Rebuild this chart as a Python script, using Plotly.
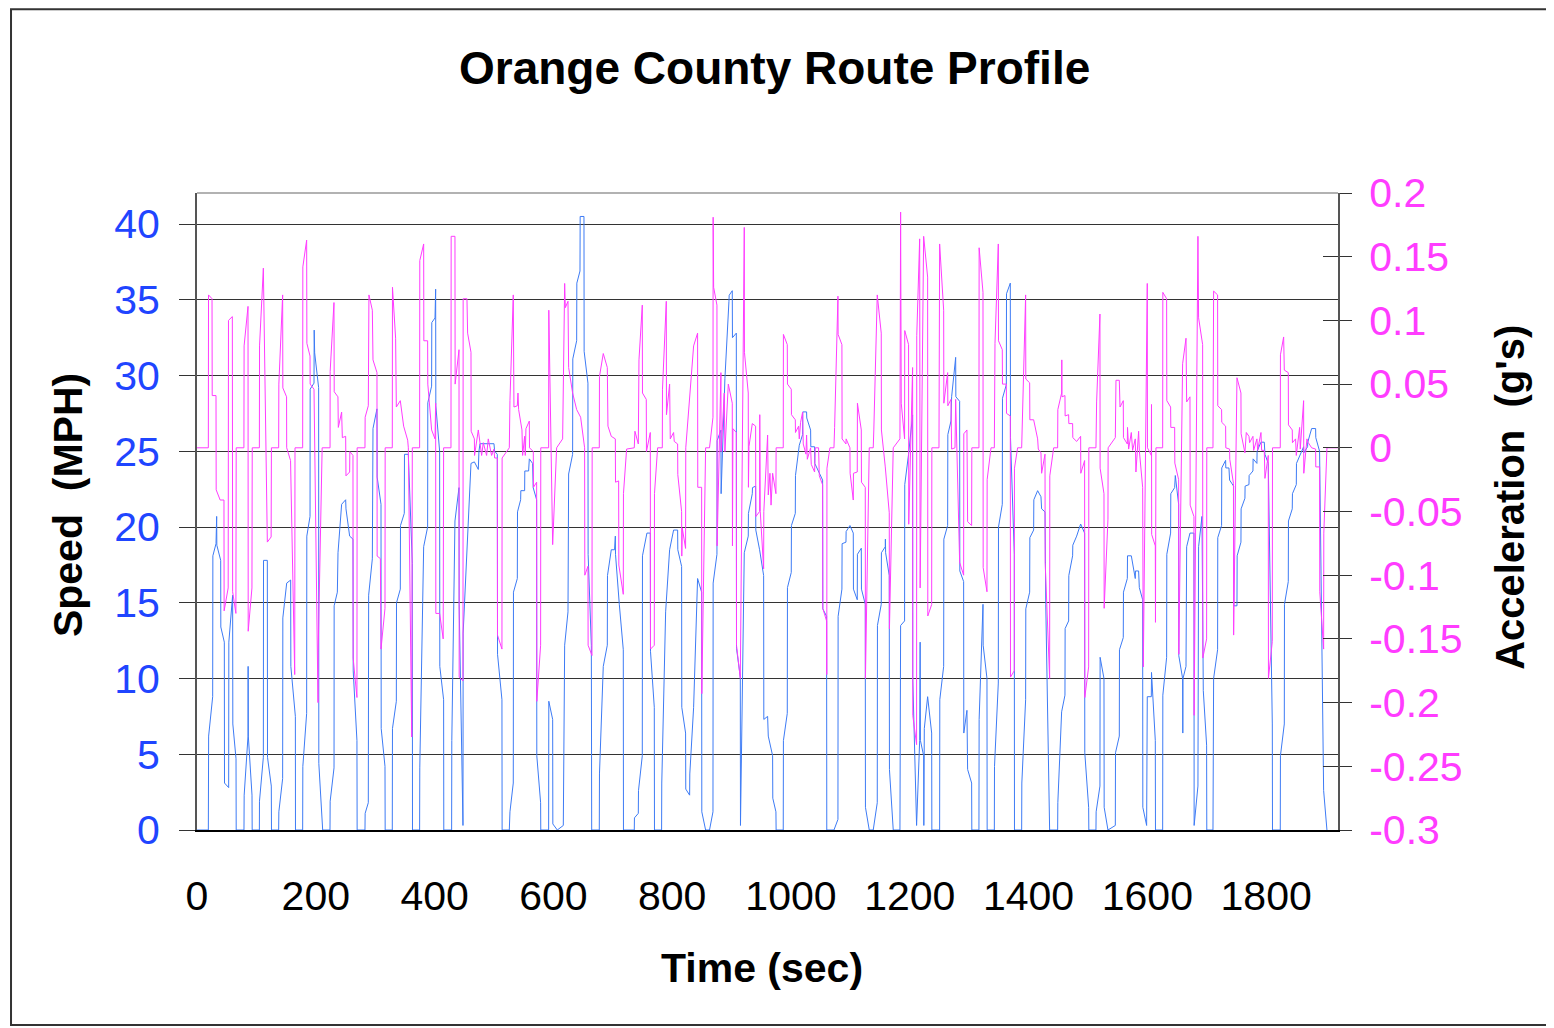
import plotly.graph_objects as go

# ---------------- data ----------------
chart_title = "Orange County Route Profile"
x_title = "Time (sec)"
y_title = "Speed&nbsp; (MPH)"
y2_title = "Acceleration&nbsp; (g's)"

time_ticks = [0, 200, 400, 600, 800, 1000, 1200, 1400, 1600, 1800]
speed_ticks = [0, 5, 10, 15, 20, 25, 30, 35, 40]
accel_ticks = [-0.3, -0.25, -0.2, -0.15, -0.1, -0.05, 0, 0.05, 0.1, 0.15, 0.2]
accel_tick_text = ["-0.3", "-0.25", "-0.2", "-0.15", "-0.1", "-0.05", "0", "0.05", "0.1", "0.15", "0.2"]

# (time sec, speed MPH)
speed_samples = [
    (0, 0), (19.1, 0), (19.6, 6.2), (26.4, 8.8), (26.7, 18.1), (32, 18.9), (33.1, 20.7), (33.4, 18.8),
    (39.9, 17.8), (40.1, 13.4), (46, 12.4), (46.3, 3.1), (53.3, 2.8), (53.6, 12.4), (60, 15.5), (60.3, 7),
    (65.7, 4.7), (66, 0), (79.1, 0), (79.4, 2.3), (85.9, 6.2), (86.1, 10.8), (86.4, 6.2), (92.6, 2.3),
    (92.9, 0), (105, 0), (105.2, 1.9), (111.7, 4.8), (112, 17.8), (118.4, 17.8), (118.7, 4.8), (125.1, 2.9),
    (125.4, 0), (137.5, 0), (137.8, 1.2), (144.2, 3.4), (144.5, 14), (151, 16.3), (157.7, 16.5), (158, 10.8),
    (165.6, 7.5), (165.8, 0), (177.9, 0), (178.2, 4.2), (184.6, 7.7), (184.9, 19.4), (190.3, 20.7), (190.5, 29.1),
    (197, 29.5), (197.3, 33), (198.1, 31.5), (204.8, 29.2), (205.1, 4.4), (211.6, 0), (223.9, 0), (224.2, 1.9),
    (230.7, 4.1), (230.9, 14.8), (236.3, 15.7), (237.4, 18.3), (243.5, 21.5), (250.3, 21.8), (250.8, 21.2),
    (257, 19.4), (262.6, 19.2), (263, 10.5), (269.3, 5.9), (269.6, 0), (282.8, 0), (283.1, 1.1), (288.4, 1.8),
    (289, 15.5), (295.2, 17.9), (296.3, 26.5), (303, 27.8), (303.3, 23.3), (309.8, 21.5), (310.1, 6.7),
    (316.5, 4.2), (316.8, 0), (328.8, 0), (329.1, 6.7), (335.6, 8.5), (335.9, 15), (342.3, 15.9), (342.6, 20.1),
    (349, 20.9), (349.3, 24.8), (355.8, 24.8), (362.5, 17.6), (362.8, 0), (374.8, 0), (375.1, 4.1), (381.6, 18.7),
    (388.3, 20), (388.6, 28.2), (395, 29.3), (395.3, 33.5), (400.7, 33.8), (401.8, 35.7), (402.1, 28),
    (408.5, 25), (408.8, 10.8), (415.2, 8.6), (415.5, 0), (428.7, 0), (429, 5.9), (434.3, 20.4), (441.1, 22.6),
    (441.4, 14.9), (447.8, 0.3), (448.1, 13), (454.5, 19), (461.3, 24.2), (467, 24.3), (473.6, 23.8),
    (474.7, 25), (476.4, 25.5), (500, 25.5), (501.1, 25), (505.6, 24.8), (506, 11.6), (513.4, 8.6), (513.7, 0),
    (525.8, 0), (526.9, 1.2), (532.5, 3.1), (532.8, 15.7), (539.3, 16.6), (539.6, 21), (544.9, 21.8),
    (545.2, 22.4), (551.6, 22.4), (551.9, 23.7), (558.3, 23.7), (559.5, 24.5), (565, 24.2), (566, 22.6),
    (571.8, 21.8), (572.1, 4.9), (578.5, 1.8), (578.8, 0), (592, 0), (592.3, 8.5), (598.8, 7.3), (599.1, 0.4),
    (606.6, 0), (616.7, 0.3), (619, 12.2), (624.6, 14.4), (625.7, 23.5), (632.4, 24.8), (632.7, 31.1),
    (639.2, 32.3), (639.5, 36.1), (644.8, 36.9), (645.1, 40.5), (651.5, 40.5), (651.8, 31.6), (658.2, 29.5),
    (658.5, 18.2), (663.9, 12.2), (664.5, 0), (677.3, 0), (677.6, 3.7), (684, 10.8), (690.8, 12.2),
    (691.1, 16.8), (697.5, 18.5), (703, 18.5), (704.3, 19.4), (704.6, 18.2), (711, 14.9), (717.7, 11.9),
    (718, 0), (736.2, 0), (736.5, 0.8), (743, 1.1), (743.3, 2.6), (749.7, 4.9), (750, 18.1), (756.4, 19.3),
    (757.5, 19.6), (763.2, 19.6), (763.5, 11.8), (769.9, 8.1), (770.2, 0), (782.2, 0), (782.5, 3.1),
    (789, 14.4), (795.7, 18.5), (802.4, 19.8), (809.2, 19.8), (809.5, 18.5), (815.9, 17.4), (816.2, 8.1),
    (822.6, 6.4), (822.9, 2.7), (829.4, 2.3), (829.7, 3.7), (836.1, 8.1), (842.8, 16.6), (849.6, 15.7),
    (849.9, 1.2), (856.3, 0), (862.9, 0), (868.7, 1.2), (869, 16.3), (875.4, 18.2), (875.7, 25.7),
    (882.1, 26.4), (882.4, 22.2), (888.8, 29.8), (895.6, 34.9), (896, 35.3), (901.2, 35.6), (901.5, 32.5),
    (908, 32.8), (908.3, 12), (914.7, 10.1), (915, 0.3), (921.4, 18.3), (928.1, 19.4), (928.4, 20.9),
    (934.9, 22.2), (935.2, 22.6), (940.5, 22.7), (940.8, 19.8), (947.2, 18.5), (954, 16.8), (954.3, 7.3),
    (960.7, 7.5), (961.8, 6.2), (969.1, 4.9), (969.4, 2.1), (974.7, 1.2), (975, 0), (987, 0), (987.3, 5.9),
    (993.8, 7.7), (994.1, 16), (1000.5, 17), (1000.8, 20.1), (1007.3, 20.9), (1007.6, 23.4), (1014, 25.4),
    (1019.6, 26.1), (1019.9, 27.6), (1026.3, 27.6), (1026.6, 27.2), (1033.1, 26.4), (1033.4, 25.3),
    (1039.8, 25.3), (1040.1, 24.2), (1046.5, 23.7), (1053.3, 23.1), (1053.6, 14.6), (1060, 14.1),
    (1060.3, 0), (1072.4, 0), (1079.1, 0.7), (1079.4, 14.1), (1085.8, 15.9), (1086.1, 18.9), (1092.6, 19),
    (1092.9, 19.7), (1099.3, 20.1), (1104.9, 19.6), (1105.2, 15.9), (1111.6, 15.2), (1111.9, 18.2),
    (1118.4, 18.6), (1118.7, 15.9), (1125.1, 14.9), (1125.4, 1.5), (1131.8, 0), (1138.5, 0), (1145.3, 1.8),
    (1145.6, 13.5), (1152, 14.9), (1152.3, 18.3), (1158.8, 18.7), (1159, 19.2), (1159.4, 18.3),
    (1165.5, 16.8), (1165.8, 4), (1172.2, 0), (1183.5, 0), (1184.6, 13.5), (1191.3, 13.8), (1191.6, 22.8),
    (1198, 24.8), (1204.8, 27.4), (1205.1, 10), (1211.5, 0.3), (1216.7, 5.9), (1217.5, 12.4), (1218, 5.9),
    (1223.4, 4.9), (1223.7, 0.3), (1224.5, 6.7), (1230.1, 8.8), (1236.9, 6.4), (1237.2, 0), (1250.3, 0),
    (1250.6, 8.6), (1257.1, 10.8), (1257.4, 19.2), (1263.8, 20.1), (1264.1, 26.1), (1269.4, 27),
    (1270.5, 28.6), (1277.3, 31.2), (1277.6, 28.6), (1284, 28.3), (1284.3, 17.1), (1290.7, 16.4),
    (1291, 6.4), (1296.3, 7.9), (1297.4, 4), (1304.2, 3.1), (1304.5, 0), (1316.5, 0), (1316.8, 7.3),
    (1323.3, 14.9), (1323.6, 12.2), (1330, 10), (1330.3, 0), (1342.4, 0), (1342.7, 4.2), (1349.1, 9.7),
    (1349.4, 20), (1355.8, 21.5), (1356.1, 28.5), (1362.6, 29.4), (1362.9, 35.4), (1369.3, 36.1),
    (1369.6, 25.9), (1376, 18.2), (1376.3, 0), (1388.4, 0), (1388.7, 3.1), (1395.1, 8.6), (1395.4, 14.6),
    (1401.9, 15.7), (1402.2, 19.3), (1408.6, 19.8), (1408.9, 21.8), (1415.3, 22.4), (1420.9, 22),
    (1422, 21.2), (1427.7, 21), (1429, 14.9), (1435.5, 0), (1449, 0), (1449.3, 1.8), (1455.7, 7.8),
    (1461.3, 8.9), (1461.6, 13.3), (1467.5, 13.8), (1467.8, 16.8), (1474.2, 18.1), (1474.5, 18.8),
    (1481, 19.4), (1487.7, 20.2), (1494.4, 19.6), (1494.7, 5.1), (1501.2, 1.5), (1501.5, 0), (1513.5, 0),
    (1513.8, 1.2), (1520.2, 2.9), (1520.5, 11.4), (1527, 10), (1527.3, 1.5), (1533.7, 0), (1546.1, 0.3),
    (1546.4, 5.1), (1552.8, 6.2), (1553.1, 11.9), (1559.5, 12.7), (1559.8, 15.7), (1566.3, 16.6),
    (1566.6, 18.1), (1573, 18.1), (1579.7, 16.6), (1580, 17.1), (1585.3, 17.1), (1586.5, 16), (1592.1, 15.2),
    (1592.4, 1.5), (1598.8, 0.3), (1599.9, 8.8), (1606.7, 8.8), (1607, 10.4), (1613.4, 5.9), (1613.7, 0),
    (1625.8, 0), (1626.1, 8.9), (1632.5, 11.4), (1632.8, 18.2), (1639.2, 19.6), (1639.5, 22.2), (1646, 22.6),
    (1647.1, 23.4), (1652.7, 21.5), (1653, 11.5), (1659.4, 10), (1659.7, 6.4), (1660, 10), (1665.1, 10.8),
    (1666.2, 18.7), (1671.8, 19.6), (1678.5, 19.6), (1678.8, 0.3), (1685.2, 2.9), (1686.3, 18.7),
    (1692, 20.7), (1694.2, 9.2), (1699.8, 5.6), (1700.1, 0), (1710.5, 0), (1711.6, 10), (1718.3, 11.9),
    (1718.6, 19.3), (1725, 20.1), (1725.3, 23.9), (1731.8, 24.4), (1732.1, 23.9), (1737.4, 23.9),
    (1738.5, 23.1), (1745.3, 22.7), (1745.6, 14.8), (1750.9, 14.8), (1751.2, 18.1), (1757.6, 19),
    (1757.9, 21.2), (1764.3, 21.9), (1764.6, 22.7), (1771.1, 22.8), (1771.4, 23.4), (1777.8, 23.7),
    (1778.1, 24.5), (1784.5, 24.2), (1784.8, 25), (1791.3, 25.6), (1796.9, 25.6), (1798, 24.8),
    (1803.6, 24.2), (1810.4, 7), (1810.7, 0), (1823.8, 0), (1824.1, 4.9), (1830.6, 7), (1830.9, 14.9),
    (1837.3, 16.4), (1837.6, 20.4), (1844, 21.2), (1844.3, 22.2), (1850.8, 22.8), (1851.1, 24.2),
    (1857.5, 24.8), (1863.1, 25.3), (1863.4, 24.9), (1869.8, 25.3), (1870.1, 25.6), (1876.6, 26.5),
    (1883.3, 26.5), (1883.6, 25.9), (1890, 25), (1896.8, 2.6), (1902.4, 0),
]

# (time sec, acceleration g's)
accel_samples = [
    (0, 0), (19.1, 0), (19.4, 0.12), (25.3, 0.117), (25.6, 0.041), (32, 0.041), (32.3, -0.033), (39, -0.041),
    (45.4, -0.041), (45.7, -0.128), (52.5, -0.11), (53, 0.1), (59.5, 0.103), (60, -0.113), (65.5, -0.13),
    (66, 0), (79, 0), (79.3, 0.08), (85.9, 0.111), (86.2, -0.144), (92.5, -0.11), (93, 0), (105, 0),
    (105.3, 0.08), (111.7, 0.141), (118.4, -0.074), (124.8, -0.07), (125.3, 0), (137.5, 0), (137.8, 0.05),
    (144.2, 0.12), (144.5, 0.047), (150.8, 0.04), (151, 0.0), (157.5, -0.01), (164.5, -0.178), (165, 0),
    (177.9, 0), (178.2, 0.142), (184.6, 0.163), (185, 0.082), (190.3, 0.072), (190.5, 0.05), (197, 0.046),
    (203.7, -0.2), (204, -0.16), (210.7, 0), (224, 0), (224.2, 0.06), (230.6, 0.114), (231, 0.044),
    (237.3, 0.04), (237.9, 0.016), (243.5, 0.028), (244.7, 0.008), (250.3, 0.009), (250.8, -0.022),
    (257, -0.019), (257.3, -0.003), (262.6, -0.006), (262.9, -0.165), (269.3, -0.196), (269.6, 0),
    (282.8, 0), (283.1, 0.024), (288.4, 0.033), (289.5, 0.12), (295.2, 0.108), (296.3, 0.069), (303, 0.059),
    (303.3, -0.085), (308.7, -0.087), (309.8, -0.158), (316.5, -0.126), (316.8, 0), (328.8, 0),
    (329.1, 0.126), (334.4, 0.086), (335.6, 0.032), (342.3, 0.037), (347.9, 0.017), (354.7, 0.006),
    (355.8, 0), (361.5, -0.227), (362.5, 0), (374.8, 0), (375.1, 0.147), (381.6, 0.16), (381.9, 0.084),
    (388.3, 0.084), (388.6, 0.05), (395, 0.014), (400.7, 0.007), (401.8, 0.035), (402.1, -0.13),
    (408.5, -0.13), (414.5, -0.15), (415.2, 0), (427.6, 0), (427.9, 0.166), (434.3, 0.166), (434.6, 0.05),
    (441.1, 0.077), (441.4, -0.18), (447.8, -0.183), (448.1, 0.117), (454.5, 0.117), (455.6, 0.09),
    (461.3, 0.075), (461.6, 0.013), (467, 0.007), (467.3, -0.006), (473.6, 0.014), (479.2, -0.006),
    (482, 0.004), (487.6, -0.006), (490.4, 0.007), (496, -0.006), (500, -0.001), (501.1, -0.008),
    (505.6, -0.008), (505.9, -0.147), (513.4, -0.158), (513.7, -0.008), (525.8, 0), (526.9, 0.037),
    (532.5, 0.12), (533.6, 0.032), (539.3, 0.033), (540.4, 0.043), (541.5, 0.03), (547.1, 0.014),
    (548.2, -0.006), (551.6, 0.009), (552.7, -0.006), (553.8, 0.015), (559.5, 0.021), (559.8, 0),
    (566.2, -0.003), (566.5, -0.031), (571.8, -0.027), (572.1, -0.199), (578.5, -0.155), (578.8, 0),
    (592, 0), (592.3, 0.108), (598.8, -0.076), (605.5, 0), (615.6, 0.007), (619, 0.129), (620.1, 0.11),
    (624.6, 0.115), (625.7, 0.063), (632.4, 0.043), (639.2, 0.03), (645.9, 0.024), (652.6, 0.0),
    (652.9, -0.1), (658.2, -0.093), (658.5, -0.155), (665, -0.163), (665.3, 0), (677.3, 0), (677.6, 0.056),
    (684, 0.074), (690.8, 0.063), (691.9, 0.017), (697.5, 0.009), (704.3, 0.007), (704.6, -0.027),
    (709.9, -0.026), (710.2, -0.092), (717.7, -0.115), (718, -0.036), (723.3, -0.001), (736.2, 0),
    (737.3, 0.013), (743, 0.003), (744.1, 0.069), (749.7, 0.112), (750, 0.043), (756.4, 0.038),
    (756.7, -0.003), (763.2, 0.012), (763.5, -0.158), (769.9, -0.155), (770.2, -0.036), (775.5, 0),
    (783.4, 0), (783.7, 0.046), (790.1, 0.115), (790.4, 0.026), (795.7, 0.05), (796.8, 0.007),
    (802.4, 0.012), (803.5, 0.005), (809.2, 0.003), (809.5, -0.021), (815.9, -0.05), (816.2, -0.085),
    (817, -0.063), (822.6, -0.079), (822.9, 0), (836.1, 0.08), (842.8, 0.09), (843.1, -0.031),
    (849.6, -0.031), (849.9, -0.193), (856.3, 0), (862.9, 0), (868.7, 0.024), (869, 0.181), (869.8, 0.126),
    (875.4, 0.112), (875.7, -0.077), (882.1, 0.059), (882.4, -0.003), (887.7, 0.043), (888.8, -0.003),
    (894.5, 0.05), (901.2, 0.035), (901.5, -0.077), (902.3, 0.015), (908, 0.012), (908.3, -0.155),
    (914.7, -0.181), (921.4, 0.173), (921.7, 0.075), (928.1, 0.043), (928.4, -0.031), (929.3, 0.001),
    (934.9, 0.019), (940.5, 0.017), (940.8, -0.054), (947.2, -0.05), (947.5, 0.026), (948.3, -0.05),
    (954, -0.095), (954.3, -0.05), (960.7, 0.01), (961.8, -0.037), (964.6, -0.02), (966.5, -0.045),
    (969.1, -0.02), (974.7, -0.036), (975, 0), (987, 0), (987.3, 0.089), (993.8, 0.081), (994.1, 0.05),
    (1000.5, 0.046), (1000.8, 0.026), (1007.3, 0.022), (1007.6, 0.012), (1012.9, 0.017), (1014, 0.007),
    (1016.2, 0.02), (1019.6, 0.028), (1020.7, 0.003), (1025.2, -0.005), (1026.3, 0.01), (1027.5, -0.009),
    (1033.1, 0), (1034.2, -0.013), (1039.8, -0.019), (1040.9, 0), (1046.5, 0), (1047.7, -0.022),
    (1053.3, -0.029), (1053.6, -0.126), (1060, -0.136), (1060.3, -0.178), (1060.6, -0.016), (1065.6, 0),
    (1072.4, 0), (1073.5, 0.016), (1079.1, 0.119), (1079.4, 0.089), (1085.8, 0.081), (1086.1, 0.007),
    (1092.6, 0.003), (1092.9, 0.007), (1099.3, 0), (1099.6, -0.02), (1104.9, -0.041), (1105.2, -0.02),
    (1111.6, -0.019), (1111.9, 0.035), (1118.4, 0.014), (1118.7, -0.027), (1125.1, -0.031),
    (1125.4, -0.181), (1131.8, 0), (1138.5, 0), (1139.5, 0.014), (1145.3, 0.12), (1152, 0.09),
    (1152.3, 0.014), (1158.8, -0.015), (1165.5, -0.051), (1165.8, -0.142), (1172.2, 0), (1183.5, 0.007),
    (1184.6, 0.185), (1185.7, 0.035), (1191.3, 0.007), (1191.6, 0.092), (1198, 0.081), (1198.3, -0.06),
    (1204.8, 0.063), (1205.1, -0.21), (1211.5, -0.233), (1211.8, 0.088), (1216.7, 0.164), (1217.5, -0.11),
    (1223.4, 0.166), (1230.1, 0.134), (1230.4, -0.132), (1236.9, -0.123), (1237.2, 0), (1249.2, 0),
    (1250.3, 0.16), (1257.1, 0.108), (1257.4, 0.035), (1263.8, 0.059), (1264.1, 0.033), (1269.4, 0.038),
    (1270.5, -0.001), (1276.2, 0), (1277.3, 0.038), (1284, -0.09), (1290.7, -0.1), (1291, 0.011),
    (1296.3, 0.014), (1297.4, -0.058), (1304.2, -0.061), (1304.5, 0), (1316.5, 0), (1316.8, 0.157),
    (1323.3, 0.122), (1323.6, -0.094), (1330, -0.113), (1330.3, -0.025), (1336.8, 0), (1342.4, 0),
    (1343.5, 0.082), (1349.1, 0.16), (1349.4, 0.084), (1355.8, 0.077), (1356.1, 0.05), (1362.6, 0.05),
    (1362.9, 0.027), (1369.3, 0.025), (1369.6, -0.18), (1376, -0.175), (1376.3, -0.016), (1381.6, 0),
    (1388.4, 0), (1395.1, 0.12), (1395.4, 0.054), (1401.9, 0.051), (1402.2, 0.022), (1408.6, 0.022),
    (1415.3, 0.007), (1416.4, -0.001), (1420.9, -0.004), (1422, -0.02), (1427.7, -0.005), (1428, -0.09),
    (1435.5, -0.181), (1435.8, -0.022), (1442.3, 0), (1449, 0), (1449.3, 0.03), (1455.7, 0.043),
    (1456, 0.069), (1456.3, 0.04), (1461.3, 0.041), (1461.6, 0.025), (1467.5, 0.026), (1467.8, 0.019),
    (1474.2, 0.019), (1474.5, 0.008), (1481, 0.005), (1487.7, 0.009), (1488, -0.02), (1494.4, -0.01),
    (1494.7, -0.196), (1501.2, -0.172), (1501.5, 0), (1513.5, 0), (1514.6, 0.036), (1520.2, 0.105),
    (1520.5, -0.016), (1527, -0.036), (1527.3, -0.126), (1533.7, -0.056), (1534, 0), (1546.1, 0.008),
    (1547.2, 0.053), (1552.8, 0.053), (1554, 0.032), (1559.5, 0.037), (1559.8, 0.008), (1566.3, 0.003),
    (1566.6, 0.016), (1568.5, -0.001), (1573, 0.012), (1575.2, -0.002), (1579.7, 0.007), (1580.8, -0.019),
    (1585.3, 0.013), (1586.5, -0.002), (1592.1, -0.031), (1593.2, -0.172), (1599.9, 0.129), (1600.2, 0.0),
    (1606.7, -0.006), (1607, 0.034), (1607.3, -0.068), (1613.4, -0.077), (1613.7, -0.137), (1614.5, 0),
    (1625.8, 0), (1626.1, 0.122), (1632.5, 0.117), (1632.8, 0.037), (1639.2, 0.032), (1639.5, 0.016),
    (1646, 0.016), (1646.3, -0.012), (1652.7, -0.025), (1653, -0.162), (1659.4, 0.066), (1665.1, 0.086),
    (1666.2, 0.036), (1671.8, 0.04), (1672.1, -0.045), (1678.5, -0.054), (1678.8, -0.21), (1685.2, 0.166),
    (1686.3, 0.102), (1693.1, 0.081), (1693.4, -0.165), (1699.8, -0.15), (1700.1, 0), (1710.5, 0),
    (1711.6, 0.123), (1718.3, 0.12), (1718.6, 0.033), (1725, 0.03), (1725.3, 0.02), (1731.8, 0.017),
    (1732.1, 0), (1738.5, -0.001), (1738.8, -0.009), (1745, -0.028), (1745.3, -0.147), (1750.9, 0.055),
    (1757.6, 0.043), (1757.9, 0.011), (1764.3, -0.004), (1766.6, 0.012), (1771.1, 0.009), (1772.2, 0.004),
    (1777.8, 0.009), (1779, -0.002), (1784.5, 0.007), (1785.7, -0.002), (1791.3, 0.012), (1792.4, -0.002),
    (1796.9, -0.002), (1798, -0.024), (1803.6, -0.006), (1803.9, -0.181), (1810.4, -0.152), (1810.7, 0),
    (1823.8, 0), (1824.1, 0.073), (1829.5, 0.087), (1830.6, 0.061), (1837.3, 0.059), (1837.6, 0.018),
    (1844, 0.014), (1844.3, 0.004), (1849.6, 0.007), (1850.8, -0.006), (1856.4, 0.016), (1857.5, -0.001),
    (1860.9, 0.019), (1863.1, 0.037), (1863.4, -0.02), (1868.7, 0.007), (1871, 0.004), (1876.6, 0),
    (1883.3, -0.001), (1883.6, -0.015), (1890, -0.015), (1890.3, -0.113), (1896.8, -0.158),
    (1897.1, -0.067), (1902.4, 0), (1921, 0),
]

speed_time = [p[0] for p in speed_samples]
speed_mph = [p[1] for p in speed_samples]
accel_time = [p[0] for p in accel_samples]
accel_g = [p[1] for p in accel_samples]

# ---------------- styling ----------------
FONT = "Liberation Sans, Arial, sans-serif"
BLUE_LINE = "#3d7bf5"
PINK_LINE = "#ff3cff"
BLUE_TEXT = "#1f45ff"
PINK_TEXT = "#ff3cff"
AXIS_GREY = "#555555"

fig = go.Figure()
fig.add_trace(go.Scatter(x=speed_time, y=speed_mph, mode="lines", yaxis="y",
                         line=dict(color=BLUE_LINE, width=1), showlegend=False, hoverinfo="skip"))
fig.add_trace(go.Scatter(x=accel_time, y=accel_g, mode="lines", yaxis="y2",
                         line=dict(color=PINK_LINE, width=1), showlegend=False, hoverinfo="skip"))
# invisible trace so the crossing-tick axis (y3) is rendered
fig.add_trace(go.Scatter(x=[None], y=[None], yaxis="y3", showlegend=False, hoverinfo="skip"))

# the page body has an 8px margin, so the figure is offset by 8px; margins compensate
fig.update_layout(
    width=1554, height=1028,
    margin=dict(l=189, r=224, t=185, b=206, pad=0),
    paper_bgcolor="white", plot_bgcolor="white",
    font=dict(family=FONT, size=41, color="black"),
    xaxis=dict(range=[0, 1921], tickvals=time_ticks, showgrid=False, zeroline=False,
               showline=True, linecolor="black", linewidth=1.5, ticks="",
               tickfont=dict(size=41, color="black"), ticklabelstandoff=29),
    yaxis=dict(range=[0, 42.05], tickvals=speed_ticks, showgrid=True, gridcolor="#333333",
               gridwidth=1, zeroline=False, showline=True, linecolor=AXIS_GREY, linewidth=2,
               ticks="outside", ticklen=16, tickcolor="#333333", tickwidth=1,
               tickfont=dict(size=41, color=BLUE_TEXT), ticklabelstandoff=11),
    yaxis2=dict(range=[-0.3, 0.2], tickvals=accel_ticks, ticktext=accel_tick_text,
                overlaying="y", side="right", anchor="x", showgrid=False, zeroline=False,
                showline=True, linecolor=AXIS_GREY, linewidth=2,
                ticks="outside", ticklen=12, tickcolor="#333333", tickwidth=1,
                tickfont=dict(size=41, color=PINK_TEXT), ticklabelstandoff=9),
    yaxis3=dict(range=[-0.3, 0.2], tickvals=accel_ticks, overlaying="y", side="right",
                anchor="x", showgrid=False, zeroline=False, showline=False,
                ticks="inside", ticklen=15, tickcolor="#333333", tickwidth=1,
                showticklabels=False),
    shapes=[
        dict(type="line", xref="paper", yref="paper", x0=0, x1=1, y0=1, y1=1,
             line=dict(color="#999999", width=1.5)),
        dict(type="rect", xref="paper", yref="paper", x0=-0.163, x1=1.2, y0=-0.306, y1=1.2885,
             line=dict(color="#333333", width=2), fillcolor="rgba(0,0,0,0)", layer="below"),
    ],
    annotations=[
        dict(text="<b>" + chart_title + "</b>", xref="paper", yref="paper", x=0.5057, y=1.196,
             showarrow=False, font=dict(size=46, color="black", family=FONT),
             xanchor="center", yanchor="middle"),
        dict(text="<b>" + x_title + "</b>", xref="paper", yref="paper", x=0.495, y=-0.2166,
             showarrow=False, font=dict(size=41, color="black", family=FONT),
             xanchor="center", yanchor="middle"),
        dict(text="<b>" + y_title + "</b>", xref="paper", yref="paper", x=-0.1131, y=0.51,
             showarrow=False, textangle=-90, font=dict(size=41, color="black", family=FONT),
             xanchor="center", yanchor="middle"),
        dict(text="<b>" + y2_title + "</b>", xref="paper", yref="paper", x=1.1507, y=0.523,
             showarrow=False, textangle=-90, font=dict(size=40, color="black", family=FONT),
             xanchor="center", yanchor="middle"),
    ],
)

fig.write_html("out.html")
